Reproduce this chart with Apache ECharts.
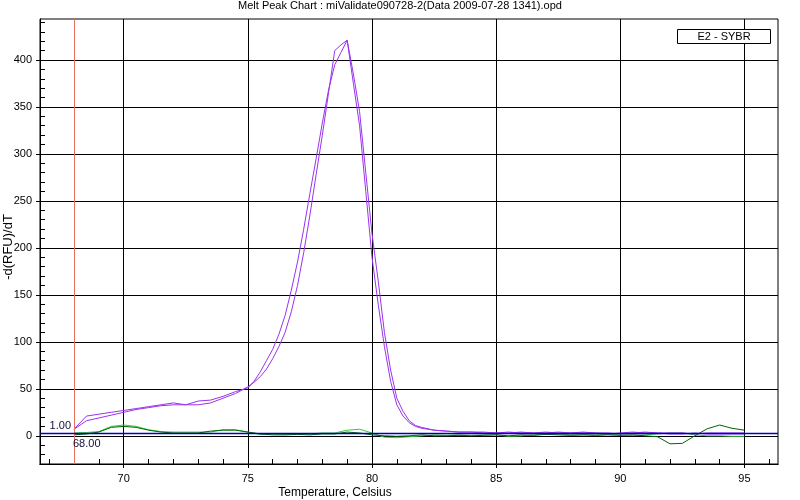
<!DOCTYPE html>
<html><head><meta charset="utf-8">
<script src="https://cdn.jsdelivr.net/npm/echarts@6/dist/echarts.min.js"></script>
<style>html,body{margin:0;padding:0;background:#fff}#c{width:800px;height:500px}</style>
</head><body><div id="c"></div>
<script>
const titleText = 'Melt Peak Chart : miValidate090728-2(Data 2009-07-28 1341).opd';
const legendText = 'E2 - SYBR';
const xAxisTitle = 'Temperature, Celsius';
const yAxisTitle = '-d(RFU)/dT';
const xTickLabels = [70, 75, 80, 85, 90, 95];
const yTickLabels = [0, 50, 100, 150, 200, 250, 300, 350, 400];
const xMinorTicks = [67,68,69,70,71,72,73,74,75,76,77,78,79,80,81,82,83,84,85,86,87,88,89,90,91,92,93,94,95,96];
const yMinorTicks = [-30,-20,-10,0,10,20,30,40,50,60,70,80,90,100,110,120,130,140,150,160,170,180,190,200,210,220,230,240,250,260,270,280,290,300,310,320,330,340,350,360,370,380,390,400,410,420,430,440];

const peakTemps = [
  68,68.5,69,69.5,70,70.5,71,71.5,72,72.5,73,73.5,74,74.5,
  75,75.25,75.5,75.75,76,76.25,76.5,76.75,77,77.25,77.5,77.75,78,78.25,78.5,78.75,79,79.25,79.5,79.75,80,80.25,80.5,80.75,81,81.25,81.5,81.75,
  82,82.5,83,83.5,84,84.5,85,85.5,86,86.5,87,87.5,88,88.5,89,89.5,90,90.5,91,91.5,92,92.5,93,93.5,94,94.5,95
];
const purpleA = [
  7,21,23,25,27,29,31,33,35,33,33,35,40,45,
  52,57,63,71,82,95,110,132,160,195,235,278,320,365,410,416,421,375,330,260,190,140,95,58,33,21,14,10,
  8,6,5,4,4,3,3,4,3,3,4,3,3,3,3,2,3,4,3,3,2,2,3,2,2,2,2
];
const purpleB = [
  7,16,19,22,25,28,30,32,33,33,37,38,42,47,
  51,58,68,80,92,108,128,155,185,220,258,295,333,368,395,408,421,385,345,280,215,165,110,70,40,26,16,11,
  9,6,5,4,4,4,3,3,4,3,3,4,3,4,3,3,2,3,4,3,3,3,2,3,3,3,3
];

const baseTemps = [
  68,68.5,69,69.5,70,70.5,71,71.5,72,72.5,
  73,73.5,74,74.5,75,75.5,76,76.5,77,77.5,
  78,78.5,79,79.5,80,80.5,81,81.5,82,82.5,
  83,83.5,84,84.5,85,85.5,86,86.5,87,87.5,
  88,88.5,89,89.5,90,90.5,91,91.5,92,92.5,
  93,93.5,94,94.5,95
];
const greenLight = [
  3,3.5,4.5,10,11.5,10,6.5,4.5,4,4,
  4,4,6.5,6.5,4,1.5,2,1.5,2,2,
  3,3,6,7,3,-1.5,-2,-1,0,1,
  0.5,1,0.5,1,1,-0.5,0,1,2,2,
  1,1,1,1.5,1,0.5,1,2,3,3,
  1,0,0,-0.5,-0.5
];
const greenDark = [
  1,2,4,9,10,9,6,4,3,3,
  3,5,6,6,4,2,1,1,1.5,1,
  2,2,4,3,1,0,-0.5,0,1,0,
  0,0.5,0,0.5,1,0,1,0.5,1.5,1,
  0.5,1,0.5,1,0.5,1,0,-1,-8.5,-8,
  0,7.5,11.5,8,6
];

const thresholdValue = 2.8;
const thresholdLabel = '1.00';
const cursorTemp = 68;
const cursorLabel = '68.00';

const FONT = '"Liberation Sans", Arial, sans-serif';
const chart = echarts.init(document.getElementById('c'), null, {renderer: 'canvas'});

function pairs(xs, ys) { return xs.map((x, i) => [x, ys[i]]); }
function lineSeries(name, xs, ys, color, extra) {
  return Object.assign({
    name: name, type: 'line', xAxisIndex: 0, yAxisIndex: 0,
    data: pairs(xs, ys), showSymbol: false, symbol: 'none', silent: true,
    lineStyle: {color: color, width: 1}, itemStyle: {color: color}
  }, extra || {});
}

const option = {
  animation: false,
  backgroundColor: '#fff',
  textStyle: {fontFamily: FONT},
  title: {
    text: titleText, left: 'center', top: 0, padding: 0,
    textStyle: {fontSize: 11, fontWeight: 'normal', color: '#000', fontFamily: FONT}
  },
  grid: {left: 40, right: 22, top: 19, bottom: 36, containLabel: false, outerBoundsMode: 'none',
         show: true, borderColor: '#000', borderWidth: 1, backgroundColor: '#fff'},
  xAxis: [
    {
      type: 'value', min: 66.63, max: 96.35, position: 'bottom', splitNumber: 6,
      axisLine: {show: true, onZero: false, lineStyle: {color: '#000', width: 1}},
      axisTick: {show: true, customValues: xTickLabels, length: 4, inside: false, lineStyle: {color: '#000'}},
      axisLabel: {customValues: xTickLabels, color: '#000', fontSize: 11, margin: 9, fontFamily: FONT},
      splitLine: {show: true, lineStyle: {color: '#000', width: 1}}
    },
    {
      type: 'value', min: 66.63, max: 96.35, position: 'bottom',
      axisLine: {show: true, onZero: false, lineStyle: {color: '#000', width: 1}},
      axisTick: {show: true, customValues: xMinorTicks, length: 5, inside: true, lineStyle: {color: '#000', width: 1}},
      axisLabel: {show: false}, splitLine: {show: false}
    }
  ],
  yAxis: [
    {
      type: 'value', min: -30, max: 443.6, position: 'left', splitNumber: 9,
      axisLine: {show: true, onZero: false, lineStyle: {color: '#000', width: 1}},
      axisTick: {show: true, customValues: yTickLabels, length: 4, inside: false, lineStyle: {color: '#000'}},
      axisLabel: {customValues: yTickLabels, color: '#000', fontSize: 11, margin: 8, fontFamily: FONT},
      splitLine: {show: true, lineStyle: {color: '#000', width: 1}}
    },
    {
      type: 'value', min: -30, max: 443.6, position: 'left',
      axisLine: {show: false, onZero: false},
      axisTick: {show: true, customValues: yMinorTicks, length: 5, inside: true, lineStyle: {color: '#000'}},
      axisLabel: {show: false}, splitLine: {show: false}
    }
  ],
  series: [
    lineSeries('greenLight', baseTemps, greenLight, '#33cc33'),
    lineSeries('greenDark', baseTemps, greenDark, '#006600'),
    lineSeries('purpleB', peakTemps, purpleB, '#9933ee'),
    lineSeries('purpleA', peakTemps, purpleA, '#9933ee', {
      markLine: {
        silent: true, symbol: 'none', animation: false,
        label: {show: false},
        data: [
          {xAxis: cursorTemp, lineStyle: {color: '#e8705c', width: 1, type: 'solid'}},
          {yAxis: thresholdValue, lineStyle: {color: '#0000cc', width: 1.3, type: 'solid'}}
        ]
      }
    })
  ],
  graphic: [
    {type: 'rect', shape: {x: 677.5, y: 29.5, width: 93, height: 14}, style: {fill: '#fff', stroke: '#000', lineWidth: 1}, z: 100},
    {type: 'text', x: 724, y: 37, style: {text: legendText, fill: '#000', font: '11px ' + FONT, textAlign: 'center', textVerticalAlign: 'middle'}, z: 101},
    {type: 'text', x: 335, y: 493, style: {text: xAxisTitle, fill: '#000', font: '12px ' + FONT, textAlign: 'center', textVerticalAlign: 'middle'}, z: 101},
    {type: 'text', x: 8, y: 247, rotation: Math.PI / 2, style: {text: yAxisTitle, fill: '#000', font: '13px ' + FONT, textAlign: 'center', textVerticalAlign: 'middle'}, z: 101},
    {type: 'text', x: 71, y: 426, style: {text: thresholdLabel, fill: '#10103a', font: '11px ' + FONT, textAlign: 'right', textVerticalAlign: 'middle'}, z: 101},
    {type: 'text', x: 73, y: 444, style: {text: cursorLabel, fill: '#10103a', font: '11px ' + FONT, textAlign: 'left', textVerticalAlign: 'middle'}, z: 101}
  ]
};
chart.setOption(option);
</script>
</body></html>
